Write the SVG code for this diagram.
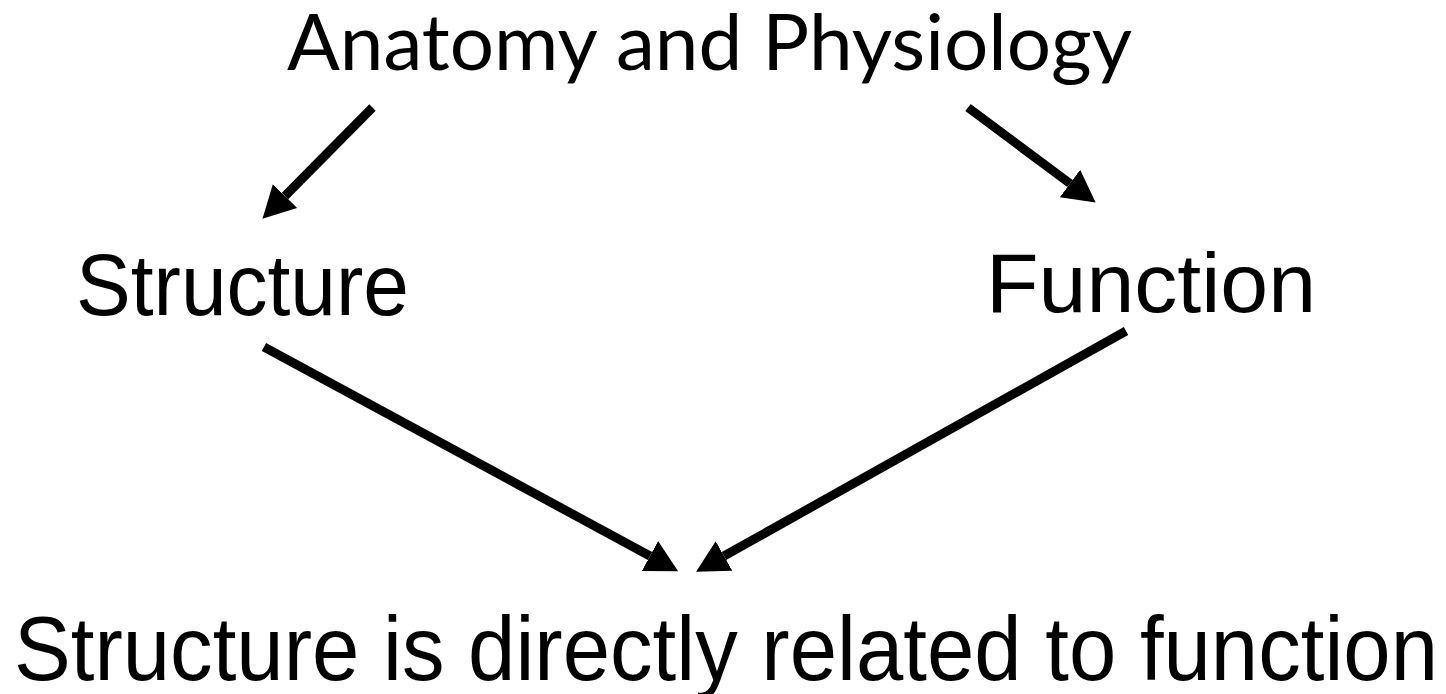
<svg xmlns="http://www.w3.org/2000/svg" width="1446" height="694" viewBox="0 0 1446 694">
<style>
.t{fill:#000;font-family:"Liberation Sans",Arial,sans-serif}
.h{fill:#000;font-family:Lato,"Open Sans",sans-serif}
.c{stroke:#000;stroke-width:9;fill:none}
</style>
<defs>
<marker id="ah" markerUnits="userSpaceOnUse" markerWidth="34" markerHeight="36" refX="0" refY="18" orient="auto" viewBox="0 0 34 36">
<path d="M0,1 L32,18 L0,35 z" fill="#000"/>
</marker>
</defs>
<rect width="1446" height="694" fill="#fff"/>
<g id="title"><text class="h" x="287" y="70" font-size="78" textLength="845" lengthAdjust="spacingAndGlyphs">Anatomy and Physiology</text></g>
<g id="structure"><text class="t" x="76" y="315" font-size="88" textLength="333" lengthAdjust="spacingAndGlyphs">Structure</text></g>
<g id="function"><text class="t" x="986" y="312" font-size="84" textLength="330" lengthAdjust="spacingAndGlyphs">Function</text></g>
<g id="conclusion"><text class="t" x="14" y="680" font-size="90" textLength="1424" lengthAdjust="spacingAndGlyphs">Structure is directly related to function</text></g>
<g id="connectors">
<line class="c" x1="372.5" y1="107.5" x2="285" y2="196" marker-end="url(#ah)"/>
<line class="c" x1="968" y1="107.5" x2="1070" y2="183.5" marker-end="url(#ah)"/>
<line class="c" x1="264" y1="347" x2="650" y2="556" marker-end="url(#ah)"/>
<line class="c" x1="1126" y1="331" x2="724" y2="556" marker-end="url(#ah)"/>
</g>
</svg>
